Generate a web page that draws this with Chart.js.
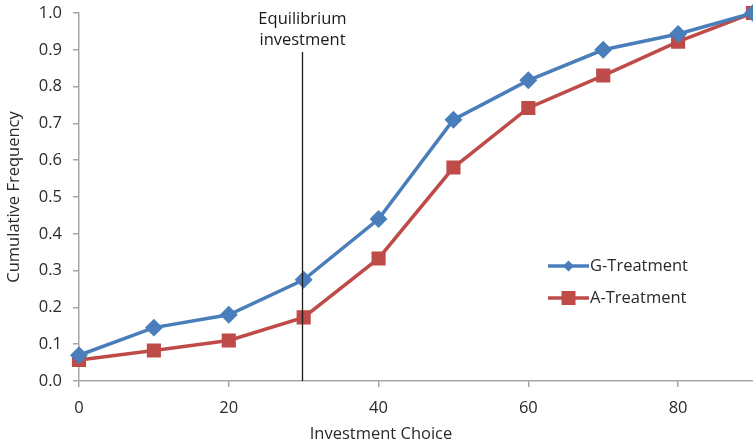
<!DOCTYPE html>
<html>
<head>
<meta charset="utf-8">
<script src="https://cdn.jsdelivr.net/npm/chart.js@4/dist/chart.umd.min.js"></script>
<style>
html,body{margin:0;padding:0;background:#fff;}
#wrap{width:753px;height:447px;position:relative;}
</style>
</head>
<body>
<div id="wrap"><canvas id="c" width="753" height="447"></canvas></div>
<script>
const investment = [0, 10, 20, 30, 40, 50, 60, 70, 80, 90];
const gTreatment = [0.07, 0.145, 0.18, 0.275, 0.44, 0.71, 0.817, 0.9, 0.943, 1.0];
const aTreatment = [0.057, 0.083, 0.11, 0.173, 0.333, 0.58, 0.742, 0.83, 0.922, 1.0];
const xTickValues = [0, 20, 40, 60, 80];
const yTickValues = [0, 0.1, 0.2, 0.3, 0.4, 0.5, 0.6, 0.7, 0.8, 0.9, 1.0];
const equilibriumX = 30;
const equilibriumLineTop = 0.894;
const equilibriumLabel = ["Equilibrium", "investment"];
const seriesNames = ["G-Treatment", "A-Treatment"];
const xTitle = "Investment Choice";
const yTitle = "Cumulative Frequency";

const FONT = "'Open Sans', sans-serif";
const FS = 16.5;
const TXT = '#2a2a2a';
const AXIS = '#a6a6a6';

const eqPlugin = {
  id: 'eq',
  afterDatasetsDraw(chart) {
    const ctx = chart.ctx, xs = chart.scales.x, ys = chart.scales.y;
    const px = Math.round(xs.getPixelForValue(equilibriumX)) - 1.5;
    ctx.save();
    ctx.strokeStyle = '#1a1a1a';
    ctx.lineWidth = 1.3;
    ctx.beginPath();
    ctx.moveTo(px, ys.getPixelForValue(equilibriumLineTop));
    ctx.lineTo(px, ys.getPixelForValue(0));
    ctx.stroke();
    ctx.fillStyle = '#1a1a1a';
    ctx.font = FS + "px " + FONT;
    ctx.textAlign = 'center';
    ctx.textBaseline = 'middle';
    ctx.fillText(equilibriumLabel[0], px, 19);
    ctx.fillText(equilibriumLabel[1], px, 40);
    ctx.restore();
  },
  afterDraw(chart) {
    const ctx = chart.ctx;
    ctx.save();
    // x-axis title
    ctx.fillStyle = TXT;
    ctx.font = FS + "px " + FONT;
    ctx.textAlign = 'center';
    ctx.textBaseline = 'middle';
    ctx.fillText(xTitle, 381, 434);
    // legend
    const items = [{y: 266}, {y: 298}];
    chart.data.datasets.forEach((ds, i) => {
      const y = items[i].y;
      ctx.strokeStyle = ds.borderColor;
      ctx.lineWidth = 3.5;
      ctx.beginPath();
      ctx.moveTo(548, y);
      ctx.lineTo(589, y);
      ctx.stroke();
      ctx.fillStyle = ds.backgroundColor;
      const cx = 568.5;
      if (ds.pointStyle === 'rect') {
        ctx.fillRect(cx - 7, y - 7, 14, 14);
      } else {
        ctx.beginPath();
        ctx.moveTo(cx, y - 5.5);
        ctx.lineTo(cx + 5.5, y);
        ctx.lineTo(cx, y + 5.5);
        ctx.lineTo(cx - 5.5, y);
        ctx.closePath();
        ctx.fill();
      }
      ctx.fillStyle = TXT;
      ctx.font = FS + "px " + FONT;
      ctx.textAlign = 'left';
      ctx.textBaseline = 'middle';
      ctx.fillText(ds.label, 590, y);
    });
    ctx.restore();
  }
};

new Chart(document.getElementById('c'), {
  type: 'line',
  data: {
    datasets: [
      {
        label: seriesNames[0],
        data: investment.map((x, i) => ({x: x, y: gTreatment[i]})),
        borderColor: '#4a7ebb',
        backgroundColor: '#4a7ebb',
        borderWidth: 3.5,
        pointStyle: 'rectRot',
        pointRadius: 6.5,
        pointHoverRadius: 6.5,
        tension: 0
      },
      {
        label: seriesNames[1],
        data: investment.map((x, i) => ({x: x, y: aTreatment[i]})),
        borderColor: '#be4b48',
        backgroundColor: '#be4b48',
        borderWidth: 3.5,
        pointStyle: 'rect',
        pointRadius: 7.5,
        pointHoverRadius: 7.5,
        tension: 0
      }
    ]
  },
  options: {
    responsive: false,
    animation: false,
    layout: {autoPadding: false, padding: {top: 13, right: 0, left: 0, bottom: 0}},
    clip: false,
    plugins: {legend: {display: false}, tooltip: {enabled: false}},
    scales: {
      x: {
        type: 'linear',
        min: 0, max: 90,
        afterFit(s) { s.height = 66; s.paddingLeft = 0; s.paddingRight = 0; },
        afterBuildTicks(s) { s.ticks = xTickValues.map(v => ({value: v})); },
        grid: {display: true, drawOnChartArea: false, drawTicks: true, tickLength: 6, color: AXIS, lineWidth: 1.5},
        border: {display: true, color: AXIS, width: 1.5},
        ticks: {color: TXT, font: {family: FONT, size: FS}, padding: 11, maxRotation: 0, autoSkip: false},
        title: {display: false}
      },
      y: {
        min: 0, max: 1,
        afterFit(s) { s.width = 79; s.paddingTop = 0; s.paddingBottom = 0; },
        afterBuildTicks(s) { s.ticks = yTickValues.map(v => ({value: v})); },
        grid: {display: true, drawOnChartArea: false, drawTicks: true, tickLength: 6, color: AXIS, lineWidth: 1.5},
        border: {display: true, color: AXIS, width: 1.5},
        ticks: {color: TXT, font: {family: FONT, size: FS}, padding: 11, autoSkip: false, callback: v => v.toFixed(1)},
        title: {display: true, text: yTitle, color: TXT, font: {family: FONT, size: FS}, padding: {top: 4, bottom: 6}}
      }
    }
  },
  plugins: [eqPlugin]
});
</script>
</body>
</html>
